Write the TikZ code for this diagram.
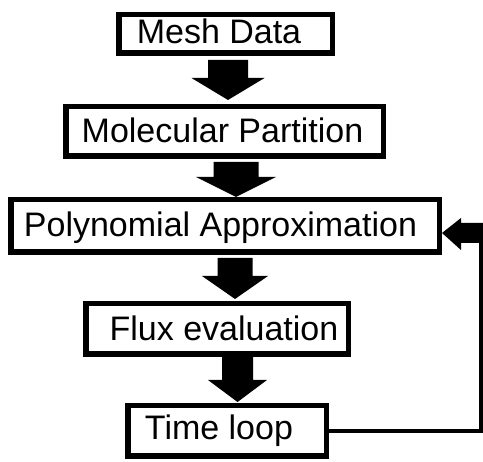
\documentclass[tikz,border=0pt]{standalone}
\usepackage{fontspec}
\setmainfont{Liberation Sans}
\usetikzlibrary{calc}

% Block arrow pointing down from the bottom of one box to the top of the next.
% #1 upper box, #2 lower box, #3 centre x, #4 shaft half width,
% #5 head half width, #6 head length, #7 gap under upper box, #8 gap above lower box
\newcommand\blockdown[8]{%
  \fill let \p1=(#1.south), \p2=(#2.north) in
    (#3pt-#4pt, \y1-#7pt) -- (#3pt+#4pt, \y1-#7pt)
    -- (#3pt+#4pt, \y2+#8pt+#6pt) -- (#3pt+#5pt, \y2+#8pt+#6pt)
    -- (#3pt, \y2+#8pt)
    -- (#3pt-#5pt, \y2+#8pt+#6pt) -- (#3pt-#4pt, \y2+#8pt+#6pt) -- cycle;
}

\begin{document}
\begin{tikzpicture}[x=1pt, y=-1pt,
  stagebox/.style={draw, line width=5.5pt, fill=white, inner sep=0pt},
  stagetext/.style={anchor=base, inner sep=0pt, font=\fontsize{34}{40}\selectfont},
  returnline/.style={line width=4.5pt}]
\useasboundingbox (0,0) rectangle (483,462);

% stage boxes
\node[stagebox, minimum width=213.5pt, minimum height=38.5pt] (b1) at (225.5,34) {};
\node[stagebox, minimum width=317.5pt, minimum height=49.5pt] (b2) at (224.5,131.5) {};
\node[stagebox, minimum width=428.5pt, minimum height=52.5pt] (b3) at (225,226) {};
\node[stagebox, minimum width=262.5pt, minimum height=50.5pt] (b4) at (217,329) {};
\node[stagebox, minimum width=198.5pt, minimum height=50.5pt] (b5) at (227,431) {};

% stage labels
\node[stagetext] (t1) at (219,44) {Mesh Data};
\node[stagetext] (t2) at (222.5,143) {Molecular Partition};
\node[stagetext] (t3) at (220.5,237) {Polynomial Approximation};
\node[stagetext] (t4) at (224,341) {Flux evaluation};
\node[stagetext] (t5) at (219,440) {Time loop};

% flow between stages
\blockdown{b1}{b2}{228}{20}{36.5}{22}{4}{4}
\blockdown{b2}{b3}{236}{22.5}{40}{20}{3}{0}
\blockdown{b3}{b4}{235}{17.5}{33}{23}{3}{2}
\blockdown{b4}{b5}{237.5}{15.5}{29.5}{22}{0}{1}

% return from the time loop to the approximation step
\coordinate (fbcorner) at (481,243);
\coordinate (fbtip) at ([yshift=-7pt]b3.east);
\draw[returnline] (b5.east) -| (fbcorner);
\fill (fbtip) -- ++(19,-15) -- ++(0,5) -- ++(25,0) -- ++(0,20)
      -- ++(-25,0) -- ++(0,7) -- cycle;
\end{tikzpicture}
\end{document}
